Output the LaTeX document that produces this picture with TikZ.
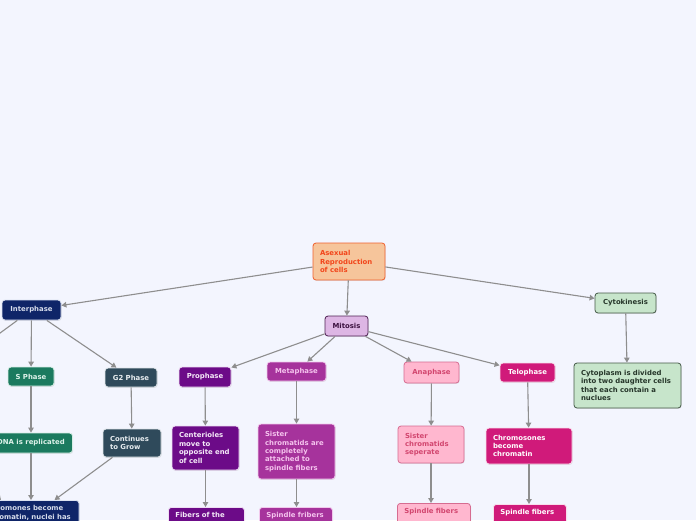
\documentclass[tikz,border=0pt]{standalone}
\usepackage{fontspec}
\setmainfont{DejaVu Sans}
\usetikzlibrary{arrows.meta,shadows}
\definecolor{bg}{HTML}{F3F5FE}
\definecolor{arr}{HTML}{8E8E8E}
\definecolor{oraF}{HTML}{F6C59B}\definecolor{oraD}{HTML}{F0602E}\definecolor{oraT}{HTML}{F2461B}
\definecolor{mitF}{HTML}{DDB6E4}\definecolor{mitD}{HTML}{4E2253}\definecolor{mitT}{HTML}{3C1240}
\definecolor{grnF}{HTML}{C7E5CB}\definecolor{grnD}{HTML}{455A48}\definecolor{grnT}{HTML}{26362A}
\definecolor{navF}{HTML}{0F2568}\definecolor{navD}{HTML}{DCE2F0}\definecolor{navT}{HTML}{D6DCEB}
\definecolor{teaF}{HTML}{1B7A5F}\definecolor{teaD}{HTML}{D8EEE6}\definecolor{teaT}{HTML}{DDF2EA}
\definecolor{slaF}{HTML}{2F4A5B}\definecolor{slaD}{HTML}{E0E6EA}\definecolor{slaT}{HTML}{E8EDF0}
\definecolor{purF}{HTML}{6C0B88}\definecolor{purD}{HTML}{EEDDF3}\definecolor{purT}{HTML}{F5EAF8}
\definecolor{magF}{HTML}{A6339C}\definecolor{magD}{HTML}{F1C9EC}\definecolor{magT}{HTML}{F5C3EE}
\definecolor{pnkF}{HTML}{FFB7CF}\definecolor{pnkD}{HTML}{D66C91}\definecolor{pnkT}{HTML}{D2466F}
\definecolor{telF}{HTML}{D01A7A}\definecolor{telD}{HTML}{F9DDEB}
\tikzset{
  box/.style={rounded corners=3pt, font=\fontsize{6.9}{8.4}\selectfont\bfseries,
    line width=0.8pt, drop shadow={opacity=0.18,shadow xshift=0.6pt,shadow yshift=-0.9pt}},
  single/.style={box, inner sep=0pt, align=center},
  multi/.style={box, inner xsep=7pt, inner ysep=4pt, align=left},
  clipped/.style={multi, anchor=north west, inner ysep=5pt, text depth=14pt},
  ora/.style={fill=oraF, draw=oraD, text=oraT},
  mitc/.style={fill=mitF, draw=mitD, text=mitT},
  grn/.style={fill=grnF, draw=grnD, text=grnT},
  navy/.style={fill=navF, draw=navD, text=navT},
  teal/.style={fill=teaF, draw=teaD, text=teaT},
  slate/.style={fill=slaF, draw=slaD, text=slaT},
  purp/.style={fill=purF, draw=purD, text=purT},
  mag/.style={fill=magF, draw=magD, text=magT},
  pnk/.style={fill=pnkF, draw=pnkD, text=pnkT},
  telc/.style={fill=telF, draw=telD, text=white},
  conn/.style={draw=arr, line width=1.1pt, -{Triangle[length=5pt,width=5.5pt]}},
}
\begin{document}
\begin{tikzpicture}[x=1pt,y=-1pt]
\path[use as bounding box] (0,0) rectangle (696,520);
\clip (0,0) rectangle (696,520);
\fill[bg] (0,0) rectangle (696,520);

% level 0
\node[multi, ora, text width=58pt, minimum height=37pt] (asx) at (349,261.5) {Asexual\\Reproduction\\of cells};

% level 1
\node[single, navy, minimum width=59pt, minimum height=20pt] (inter) at (31.5,310) {Interphase};
\node[single, mitc, minimum width=43pt, minimum height=20pt] (mit) at (346.5,326) {Mitosis};
\node[single, grn, minimum width=61pt, minimum height=20pt] (cyt) at (625.5,303) {Cytokinesis};
\coordinate (g1) at (-60,377);

% level 2
\node[single, teal, minimum width=46pt, minimum height=19pt] (sph) at (31,376.5) {S Phase};
\node[single, slate, minimum width=52pt, minimum height=19pt] (g2) at (131,377.5) {G2 Phase};
\node[single, purp, minimum width=52pt, minimum height=20pt] (pro) at (205,377) {Prophase};
\node[single, mag, minimum width=59pt, minimum height=19pt] (meta) at (296.5,371.5) {Metaphase};
\node[single, pnk, minimum width=55pt, minimum height=21pt] (ana) at (431.5,372.5) {Anaphase};
\node[single, telc, minimum width=55pt, minimum height=19pt] (telo) at (527.5,372.5) {Telophase};
\node[multi, grn, text width=93pt, minimum height=45pt] (cytp) at (627.5,385.5) {Cytoplasm is divided\\into two daughter cells\\that each contain a\\nuclues};

% level 3
\node[single, teal, minimum width=83pt, minimum height=20pt] (dna) at (31,443) {DNA is replicated};
\node[multi, slate, text width=44pt, minimum height=28pt] (cont) at (132,443) {Continues\\to Grow};
\node[multi, purp, text width=53pt, minimum height=44pt] (cent) at (205.5,448) {Centerioles\\move to\\opposite end\\of cell};
\node[multi, mag, text width=63pt, minimum height=55pt] (sis) at (296.5,451.5) {Sister\\chromatids are\\completely\\attached to\\spindle fibers};
\node[multi, pnk, text width=52pt, minimum height=37pt] (sep) at (431,444.5) {Sister\\chromatids\\seperate};
\node[multi, telc, text width=72pt, minimum height=36pt] (chrn) at (529,446) {Chromosones\\become\\chromatin};
\coordinate (cg) at (-40,455);

% level 4 (cut by the lower edge)
\node[clipped, navy, text width=85pt, text depth=10pt] (chrm) at (-20.4,500) {Chromones become\\chromatin, nuclei has};
\node[clipped, purp, text width=62pt] (fib) at (168,507) {Fibers of the};
\node[clipped, mag, text width=59pt] (spf) at (259,507) {Spindle fribers};
\node[clipped, pnk, text width=59pt] (sp1) at (397,503) {Spindle fibers};
\node[clipped, telc, text width=59pt] (sp2) at (493,504) {Spindle fibers};

% connectors
\draw[conn] (asx) -- (inter);
\draw[conn] (asx) -- (mit);
\draw[conn] (asx) -- (cyt);
\draw[conn] (inter) -- (g1);
\draw[conn] (inter) -- (sph);
\draw[conn] (inter) -- (g2);
\draw[conn] (mit) -- (pro);
\draw[conn] (mit) -- (meta);
\draw[conn] (mit) -- (ana);
\draw[conn] (mit) -- (telo);
\draw[conn] (cyt) -- (cytp);
\draw[conn] (sph) -- (sph |- dna.north);
\draw[conn] (g2) -- (cont);
\draw[conn] (pro) -- (cent);
\draw[conn] (meta) -- (sis);
\draw[conn] (ana) -- (sep);
\draw[conn] (telo) -- (chrn);
\draw[conn] (dna.south) -- (dna.south |- chrm.north);
\draw[conn] (cont) -- ([xshift=25pt]chrm.north);
\draw[conn] (cg) -- ([xshift=-28.5pt]chrm.north);
\draw[conn] (cent) -- (cent |- fib.north);
\draw[conn] (sis) -- (sis |- spf.north);
\draw[conn] (sep) -- (sep |- sp1.north);
\draw[conn] (chrn) -- (chrn |- sp2.north);
\end{tikzpicture}
\end{document}
